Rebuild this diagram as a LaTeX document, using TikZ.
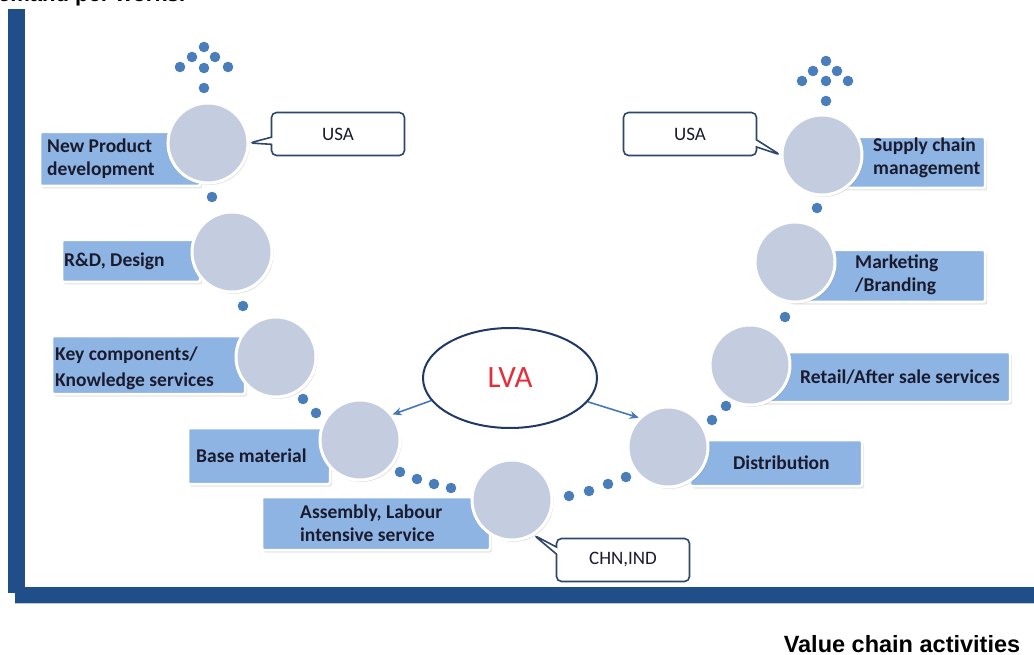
\documentclass[tikz,border=0pt]{standalone}
\usepackage{fontspec}
\setmainfont{Carlito}
\newfontfamily\arialf{Liberation Sans}
\usetikzlibrary{shapes.geometric,shapes.callouts,shadows,arrows.meta}
\definecolor{axisblue}{RGB}{31,78,136}
\definecolor{circfill}{RGB}{196,205,224}
\definecolor{labfill}{RGB}{141,180,226}
\definecolor{dotblue}{RGB}{74,126,187}
\definecolor{txtdark}{RGB}{27,27,47}
\definecolor{ellblue}{RGB}{31,56,100}
\definecolor{callblue}{RGB}{46,70,105}
\definecolor{lvared}{RGB}{230,45,60}
\definecolor{arrblue}{RGB}{70,120,185}
\tikzset{
  stagecirc/.style={circle, draw=white, line width=3pt, fill=circfill, minimum size=80pt, inner sep=0pt,
    drop shadow={opacity=0.22, shadow xshift=1.5pt, shadow yshift=-2pt}},
  labbox/.style={rectangle, draw=white, line width=2.5pt, fill=labfill, rounded corners=2pt, inner sep=0pt,
    drop shadow={opacity=0.2, shadow xshift=2pt, shadow yshift=-2.5pt}},
  labtxt/.style={font=\bfseries\fontsize{19.5}{23}\selectfont, text=txtdark, align=left, inner sep=0pt, anchor=west},
  countrybox/.style={rectangle callout, draw=callblue, line width=1.6pt, fill=white, rounded corners=5pt,
    minimum width=133pt, minimum height=43pt, font=\fontsize{19}{20}\selectfont, text=txtdark},
  dotty/.style={fill=dotblue},
  lvaarrow/.style={draw=arrblue, line width=1.6pt, -{Stealth[length=9pt,width=8pt]}},
}
\begin{document}
\begin{tikzpicture}[x=1pt,y=-1pt]
\useasboundingbox (0,0) rectangle (1034,655);
\begin{scope}
\clip (0,0) rectangle (1034,655);
\node[anchor=base west, inner sep=0pt, font=\arialf\bfseries\fontsize{22}{22}\selectfont] (toptext) at (-18,2) {Demand per works.};
\end{scope}

% axes
\fill[axisblue] (8,9) rectangle (25,593);
\fill[axisblue] (15,587) rectangle (1034,603);
\draw[white!70!axisblue, line width=1pt] (15,603.5) -- (1034,603.5);

% label boxes
\node[labbox, minimum width=160pt, minimum height=54pt] (b1) at (120,159) {};
\node[labbox, minimum width=138pt, minimum height=42pt] (b2) at (131,261) {};
\node[labbox, minimum width=193pt, minimum height=58pt] (b3) at (148.5,365) {};
\node[labbox, minimum width=142pt, minimum height=56pt] (b4) at (259,456) {};
\node[labbox, minimum width=228pt, minimum height=53pt] (b5) at (376,523.5) {};
\node[labbox, minimum width=172pt, minimum height=46pt] (b6) at (776,463) {};
\node[labbox, minimum width=250pt, minimum height=50pt] (b7) at (885,377) {};
\node[labbox, minimum width=195pt, minimum height=52pt] (b8) at (887.5,276) {};
\node[labbox, minimum width=155pt, minimum height=51pt] (b9) at (907.5,162.5) {};

% label texts
\node[labtxt] (t1) at (47,159) {New Product\\development};
\node[labtxt] (t2) at (64,261) {R\&D, Design};
\node[labtxt, font=\bfseries\fontsize{19.5}{26}\selectfont] (t3) at (55,368) {Key components/\\Knowledge services};
\node[labtxt] (t4) at (196,456) {Base material};
\node[labtxt] (t5) at (300,523) {Assembly, Labour\\intensive service};
\node[labtxt] (t6) at (733,463) {Distribution};
\node[labtxt] (t7) at (800,377) {Retail/After sale services};
\node[labtxt] (t8) at (855,275) {Marketing\\/Branding};
\node[labtxt] (t9) at (873,158) {Supply chain\\management};

% circles
\node[stagecirc] (c1) at (208,143) {};
\node[stagecirc] (c2) at (232,252) {};
\node[stagecirc] (c3) at (276,357) {};
\node[stagecirc] (c4) at (360,440) {};
\node[stagecirc] (c5) at (512,500) {};
\node[stagecirc] (c6) at (668,447) {};
\node[stagecirc] (c7) at (750,365) {};
\node[stagecirc] (c8) at (795,262) {};
\node[stagecirc] (c9) at (822,155) {};

% dots
\foreach \p in {(204,47),(192,57),(215,57),(180,67),(204,68),(228,67),(204,88),
  (212,197),(243,306),(303,399),(316,413),
  (400,472),(417,479),(434,484),(451,488),
  (569,496),(589,491),(608,484),(626,477),
  (712,420),(726,406),(785,317),(817,208),
  (826,61),(813,71),(837,71),(802,81),(826,81),(848,81),(826,101)}
  \fill[dotty] \p circle (5.3);

% country callouts
\node[countrybox, callout absolute pointer={(c1.east)}] (usa1) at (338,134) {USA};
\node[countrybox, callout absolute pointer={(c9.west)}] (usa2) at (690,134) {USA};
\node[countrybox, callout absolute pointer={(c5.-58)}] (chn) at (623,560) {CHN,IND};

% LVA
\node[ellipse, draw=ellblue, line width=2pt, fill=white, minimum width=174pt, minimum height=100pt, inner sep=0pt,
  font=\fontsize{31}{31}\selectfont, text=lvared] (lva) at (510,378) {LVA};
\draw[lvaarrow] (lva.196) -- (c4.38);
\draw[lvaarrow] (lva.343) -- (c6.135);

% axis label
\node[anchor=base, inner sep=0pt, font=\arialf\bfseries\fontsize{23.5}{24}\selectfont] (xlab) at (902,652) {Value chain activities};
\end{tikzpicture}
\end{document}
